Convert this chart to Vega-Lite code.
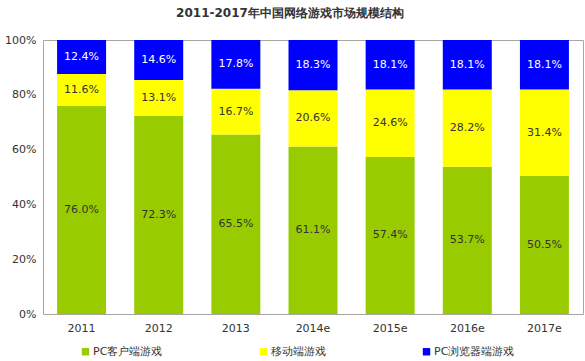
{
  "$schema": "https://vega.github.io/schema/vega-lite/v6.json",
  "width": 540,
  "height": 274,
  "autosize": "none",
  "padding": {"left": 43, "top": 40, "right": 2, "bottom": 47},
  "background": "white",
  "title": {
    "text": "2011-2017年中国网络游戏市场规模结构",
    "fontSize": 12,
    "fontWeight": "bold",
    "color": "#333333",
    "font": "DejaVu Sans",
    "anchor": "middle",
    "dx": -23,
    "offset": 14
  },
  "config": {
    "font": "DejaVu Sans",
    "view": {"stroke": "#a6a6a6", "strokeWidth": 1}
  },
  "data": {
    "values": [
      {"year": "2011", "type": "PC客户端游戏", "value": 0.760},
      {"year": "2011", "type": "移动端游戏", "value": 0.116},
      {"year": "2011", "type": "PC浏览器端游戏", "value": 0.124},
      {"year": "2012", "type": "PC客户端游戏", "value": 0.723},
      {"year": "2012", "type": "移动端游戏", "value": 0.131},
      {"year": "2012", "type": "PC浏览器端游戏", "value": 0.146},
      {"year": "2013", "type": "PC客户端游戏", "value": 0.655},
      {"year": "2013", "type": "移动端游戏", "value": 0.167},
      {"year": "2013", "type": "PC浏览器端游戏", "value": 0.178},
      {"year": "2014e", "type": "PC客户端游戏", "value": 0.611},
      {"year": "2014e", "type": "移动端游戏", "value": 0.206},
      {"year": "2014e", "type": "PC浏览器端游戏", "value": 0.183},
      {"year": "2015e", "type": "PC客户端游戏", "value": 0.574},
      {"year": "2015e", "type": "移动端游戏", "value": 0.246},
      {"year": "2015e", "type": "PC浏览器端游戏", "value": 0.181},
      {"year": "2016e", "type": "PC客户端游戏", "value": 0.537},
      {"year": "2016e", "type": "移动端游戏", "value": 0.282},
      {"year": "2016e", "type": "PC浏览器端游戏", "value": 0.181},
      {"year": "2017e", "type": "PC客户端游戏", "value": 0.505},
      {"year": "2017e", "type": "移动端游戏", "value": 0.314},
      {"year": "2017e", "type": "PC浏览器端游戏", "value": 0.181}
    ]
  },
  "encoding": {
    "x": {
      "field": "year",
      "type": "nominal",
      "sort": null,
      "scale": {"paddingInner": 0.365, "paddingOuter": 0.1825},
      "axis": {
        "title": null,
        "labelAngle": 0,
        "ticks": false,
        "domain": false,
        "labelFontSize": 11,
        "labelColor": "#333333",
        "labelPadding": 8
      }
    },
    "y": {
      "field": "value",
      "type": "quantitative",
      "stack": "normalize",
      "scale": {"domain": [0, 1]},
      "axis": {
        "title": null,
        "format": ".0%",
        "values": [0, 0.2, 0.4, 0.6, 0.8, 1],
        "grid": false,
        "ticks": false,
        "domain": false,
        "labelFontSize": 11,
        "labelColor": "#333333",
        "labelPadding": 7
      }
    },
    "order": {"field": "ord", "type": "quantitative"}
  },
  "transform": [
    {"lookup": "type", "from": {"data": {"values": [
      {"type": "PC客户端游戏", "ord": 1},
      {"type": "移动端游戏", "ord": 2},
      {"type": "PC浏览器端游戏", "ord": 3}
    ]}, "key": "type", "fields": ["ord"]}}
  ],
  "layer": [
    {
      "mark": {"type": "bar"},
      "encoding": {
        "color": {
          "field": "type",
          "type": "nominal",
          "scale": {
            "domain": ["PC客户端游戏", "移动端游戏", "PC浏览器端游戏"],
            "range": ["#99cc00", "#ffff00", "#0000ff"]
          },
          "legend": {
            "title": null,
            "orient": "none",
            "legendX": 37,
            "legendY": 306,
            "direction": "horizontal",
            "symbolType": "square",
            "symbolSize": 55,
            "symbolStrokeWidth": 0,
            "labelFontSize": 11,
            "labelColor": "#333333",
            "labelOffset": 2,
            "columnPadding": 95
          }
        }
      }
    },
    {
      "mark": {"type": "text", "fontSize": 11},
      "encoding": {
        "y": {
          "field": "value",
          "type": "quantitative",
          "stack": "normalize",
          "bandPosition": 0.5
        },
        "text": {"field": "value", "type": "quantitative", "format": ".1%"},
        "color": {
          "condition": {"test": "datum.type === 'PC浏览器端游戏'", "value": "#ffffff"},
          "value": "#333333"
        }
      }
    }
  ]
}
